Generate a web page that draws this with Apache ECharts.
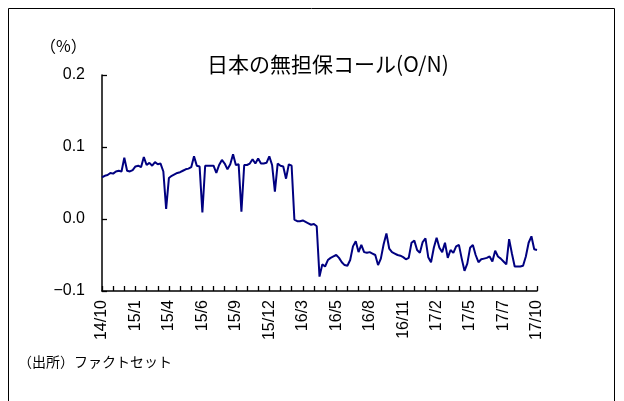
<!DOCTYPE html>
<html>
<head>
<meta charset="utf-8">
<script src="https://cdn.jsdelivr.net/npm/echarts@6/dist/echarts.min.js"></script>
<style>
html,body{margin:0;padding:0;background:#fff;}
#chart{width:624px;height:401px;}
</style>
</head>
<body>
<div id="chart"></div>
<script>
// Weekly samples of the uncollateralized overnight call rate (%), Oct 2014 - Oct 2017
const callRate = [
  0.058, 0.060, 0.061, 0.064, 0.063, 0.066, 0.067, 0.066, 0.085, 0.067,
  0.066, 0.068, 0.073, 0.074, 0.072, 0.086, 0.075, 0.078, 0.074, 0.079,
  0.076, 0.077, 0.066, 0.014, 0.057, 0.060, 0.062, 0.064, 0.065, 0.067,
  0.069, 0.070, 0.072, 0.087, 0.074, 0.073, 0.009, 0.074, 0.074, 0.074,
  0.074, 0.064, 0.075, 0.082, 0.077, 0.069, 0.076, 0.090, 0.075, 0.076,
  0.010, 0.075, 0.075, 0.077, 0.083, 0.077, 0.084, 0.077, 0.077, 0.078,
  0.087, 0.075, 0.038, 0.077, 0.074, 0.073, 0.056, 0.076, 0.074, -0.001,
  -0.003, -0.003, -0.002, -0.004, -0.006, -0.008, -0.007, -0.010, -0.080, -0.063,
  -0.066, -0.057, -0.054, -0.052, -0.050, -0.054, -0.060, -0.064, -0.065, -0.057,
  -0.038, -0.031, -0.046, -0.036, -0.046, -0.047, -0.046, -0.048, -0.050, -0.064,
  -0.055, -0.035, -0.020, -0.041, -0.046, -0.048, -0.050, -0.051, -0.053, -0.056,
  -0.054, -0.033, -0.030, -0.043, -0.047, -0.032, -0.027, -0.053, -0.060, -0.040,
  -0.026, -0.040, -0.046, -0.033, -0.054, -0.043, -0.047, -0.038, -0.036, -0.055,
  -0.072, -0.062, -0.040, -0.036, -0.050, -0.060, -0.056, -0.055, -0.054, -0.052,
  -0.059, -0.044, -0.052, -0.055, -0.059, -0.063, -0.028, -0.048, -0.066, -0.066,
  -0.066, -0.065, -0.052, -0.033, -0.024, -0.042, -0.043
];
const xTickLabels = ['14/10','15/1','15/4','15/6','15/9','15/12','16/3','16/5','16/8','16/11','17/2','17/5','17/7','17/10'];
const yTickLabels = ['\u22120.1', '0.0', '0.1', '0.2'];
const weeksPerLabel = 12;
const weeksPerTick = 4;

const categories = callRate.map((v, i) => String(i));
const cjk = '"Noto Sans CJK JP", "Liberation Sans", sans-serif';
const num = '"Liberation Sans", Arial, sans-serif';

const chart = echarts.init(document.getElementById('chart'), null, {renderer: 'canvas'});
chart.setOption({
  animation: false,
  backgroundColor: '#fff',
  title: {
    text: '日本の無担保コール(O/N)',
    left: 323, top: 49, textAlign: 'center',
    textStyle: {fontFamily: cjk, fontSize: 21, fontWeight: 'normal', color: '#000'}
  },
  grid: {left: 102, right: 87, top: 75, bottom: 110, containLabel: false},
  xAxis: {
    type: 'category',
    data: categories,
    boundaryGap: false,
    axisLine: {onZero: false, lineStyle: {color: '#000', width: 1.5}},
    axisTick: {inside: true, length: 5, interval: weeksPerTick - 1, lineStyle: {color: '#000', width: 1.3}},
    axisLabel: {
      interval: weeksPerLabel - 1,
      rotate: 90,
      margin: 9,
      fontFamily: num, fontSize: 16, color: '#000',
      formatter: (v, i) => xTickLabels[Math.round(i / weeksPerLabel)] || ''
    },
    splitLine: {show: false}
  },
  yAxis: {
    type: 'value',
    min: -0.1, max: 0.2, interval: 0.1,
    axisLine: {show: true, lineStyle: {color: '#000', width: 1.5}},
    axisTick: {show: true, inside: true, length: 5, lineStyle: {color: '#000', width: 1.3}},
    axisLabel: {
      margin: 17, fontFamily: num, fontSize: 16, color: '#000',
      formatter: v => yTickLabels[Math.round((v + 0.1) / 0.1)]
    },
    splitLine: {show: false}
  },
  graphic: [
    {type: 'rect', shape: {x: 8.5, y: 8.5, width: 606, height: 420}, style: {fill: 'none', stroke: '#000', lineWidth: 1}, silent: true},
    {type: 'text', left: 40, top: 38, style: {text: '（%）', font: '16px ' + cjk, fill: '#000'}},
    {type: 'text', left: 18, top: 355, style: {text: '（出所）ファクトセット', font: '14px ' + cjk, fill: '#000'}}
  ],
  series: [{
    type: 'line',
    data: callRate,
    showSymbol: false,
    symbol: 'none',
    lineStyle: {color: '#000080', width: 2},
    itemStyle: {color: '#000080'}
  }]
});
</script>
</body>
</html>
